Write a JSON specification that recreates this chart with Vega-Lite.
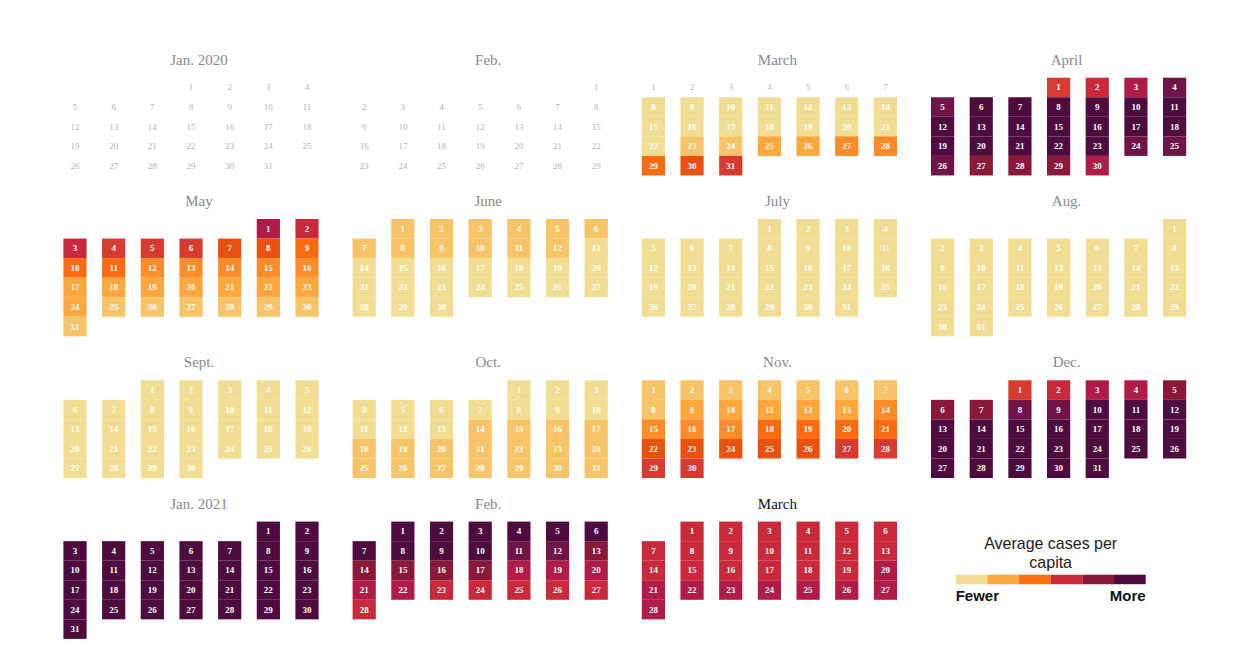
{
  "$schema": "https://vega.github.io/schema/vega-lite/v6.json",
  "padding": {"left": 63.4, "top": 52.7, "right": 10, "bottom": 5},
  "background": "white",
  "data": {"values": [
    {"date":"2020-01-01","level":0},{"date":"2020-01-02","level":0},{"date":"2020-01-03","level":0},{"date":"2020-01-04","level":0},{"date":"2020-01-05","level":0},{"date":"2020-01-06","level":0},{"date":"2020-01-07","level":0},{"date":"2020-01-08","level":0},{"date":"2020-01-09","level":0},{"date":"2020-01-10","level":0},{"date":"2020-01-11","level":0},{"date":"2020-01-12","level":0},{"date":"2020-01-13","level":0},{"date":"2020-01-14","level":0},{"date":"2020-01-15","level":0},{"date":"2020-01-16","level":0},{"date":"2020-01-17","level":0},{"date":"2020-01-18","level":0},{"date":"2020-01-19","level":0},{"date":"2020-01-20","level":0},{"date":"2020-01-21","level":0},{"date":"2020-01-22","level":0},{"date":"2020-01-23","level":0},{"date":"2020-01-24","level":0},{"date":"2020-01-25","level":0},{"date":"2020-01-26","level":0},{"date":"2020-01-27","level":0},{"date":"2020-01-28","level":0},{"date":"2020-01-29","level":0},{"date":"2020-01-30","level":0},{"date":"2020-01-31","level":0},
    {"date":"2020-02-01","level":0},{"date":"2020-02-02","level":0},{"date":"2020-02-03","level":0},{"date":"2020-02-04","level":0},{"date":"2020-02-05","level":0},{"date":"2020-02-06","level":0},{"date":"2020-02-07","level":0},{"date":"2020-02-08","level":0},{"date":"2020-02-09","level":0},{"date":"2020-02-10","level":0},{"date":"2020-02-11","level":0},{"date":"2020-02-12","level":0},{"date":"2020-02-13","level":0},{"date":"2020-02-14","level":0},{"date":"2020-02-15","level":0},{"date":"2020-02-16","level":0},{"date":"2020-02-17","level":0},{"date":"2020-02-18","level":0},{"date":"2020-02-19","level":0},{"date":"2020-02-20","level":0},{"date":"2020-02-21","level":0},{"date":"2020-02-22","level":0},{"date":"2020-02-23","level":0},{"date":"2020-02-24","level":0},{"date":"2020-02-25","level":0},{"date":"2020-02-26","level":0},{"date":"2020-02-27","level":0},{"date":"2020-02-28","level":0},{"date":"2020-02-29","level":0},
    {"date":"2020-03-01","level":0},{"date":"2020-03-02","level":0},{"date":"2020-03-03","level":0},{"date":"2020-03-04","level":0},{"date":"2020-03-05","level":0},{"date":"2020-03-06","level":0},{"date":"2020-03-07","level":0},{"date":"2020-03-08","level":1},{"date":"2020-03-09","level":1},{"date":"2020-03-10","level":1},{"date":"2020-03-11","level":1},{"date":"2020-03-12","level":1},{"date":"2020-03-13","level":1},{"date":"2020-03-14","level":1},{"date":"2020-03-15","level":1},{"date":"2020-03-16","level":1},{"date":"2020-03-17","level":1},{"date":"2020-03-18","level":1},{"date":"2020-03-19","level":1},{"date":"2020-03-20","level":1},{"date":"2020-03-21","level":1},{"date":"2020-03-22","level":1},{"date":"2020-03-23","level":2},{"date":"2020-03-24","level":2},{"date":"2020-03-25","level":3},{"date":"2020-03-26","level":3},{"date":"2020-03-27","level":4},{"date":"2020-03-28","level":4},{"date":"2020-03-29","level":5},{"date":"2020-03-30","level":6},{"date":"2020-03-31","level":7},
    {"date":"2020-04-01","level":7},{"date":"2020-04-02","level":8},{"date":"2020-04-03","level":9},{"date":"2020-04-04","level":11},{"date":"2020-04-05","level":11},{"date":"2020-04-06","level":12},{"date":"2020-04-07","level":12},{"date":"2020-04-08","level":12},{"date":"2020-04-09","level":12},{"date":"2020-04-10","level":12},{"date":"2020-04-11","level":12},{"date":"2020-04-12","level":12},{"date":"2020-04-13","level":12},{"date":"2020-04-14","level":12},{"date":"2020-04-15","level":12},{"date":"2020-04-16","level":12},{"date":"2020-04-17","level":12},{"date":"2020-04-18","level":12},{"date":"2020-04-19","level":12},{"date":"2020-04-20","level":12},{"date":"2020-04-21","level":12},{"date":"2020-04-22","level":12},{"date":"2020-04-23","level":12},{"date":"2020-04-24","level":11},{"date":"2020-04-25","level":11},{"date":"2020-04-26","level":11},{"date":"2020-04-27","level":10},{"date":"2020-04-28","level":10},{"date":"2020-04-29","level":10},{"date":"2020-04-30","level":9},
    {"date":"2020-05-01","level":9},{"date":"2020-05-02","level":8},{"date":"2020-05-03","level":8},{"date":"2020-05-04","level":7},{"date":"2020-05-05","level":7},{"date":"2020-05-06","level":7},{"date":"2020-05-07","level":6},{"date":"2020-05-08","level":6},{"date":"2020-05-09","level":5},{"date":"2020-05-10","level":5},{"date":"2020-05-11","level":5},{"date":"2020-05-12","level":4},{"date":"2020-05-13","level":4},{"date":"2020-05-14","level":4},{"date":"2020-05-15","level":4},{"date":"2020-05-16","level":4},{"date":"2020-05-17","level":3},{"date":"2020-05-18","level":3},{"date":"2020-05-19","level":3},{"date":"2020-05-20","level":3},{"date":"2020-05-21","level":3},{"date":"2020-05-22","level":3},{"date":"2020-05-23","level":3},{"date":"2020-05-24","level":3},{"date":"2020-05-25","level":2},{"date":"2020-05-26","level":2},{"date":"2020-05-27","level":2},{"date":"2020-05-28","level":2},{"date":"2020-05-29","level":2},{"date":"2020-05-30","level":2},{"date":"2020-05-31","level":2},
    {"date":"2020-06-01","level":2},{"date":"2020-06-02","level":2},{"date":"2020-06-03","level":2},{"date":"2020-06-04","level":2},{"date":"2020-06-05","level":2},{"date":"2020-06-06","level":2},{"date":"2020-06-07","level":2},{"date":"2020-06-08","level":2},{"date":"2020-06-09","level":2},{"date":"2020-06-10","level":2},{"date":"2020-06-11","level":2},{"date":"2020-06-12","level":2},{"date":"2020-06-13","level":1},{"date":"2020-06-14","level":1},{"date":"2020-06-15","level":1},{"date":"2020-06-16","level":1},{"date":"2020-06-17","level":1},{"date":"2020-06-18","level":1},{"date":"2020-06-19","level":1},{"date":"2020-06-20","level":1},{"date":"2020-06-21","level":1},{"date":"2020-06-22","level":1},{"date":"2020-06-23","level":1},{"date":"2020-06-24","level":1},{"date":"2020-06-25","level":1},{"date":"2020-06-26","level":1},{"date":"2020-06-27","level":1},{"date":"2020-06-28","level":1},{"date":"2020-06-29","level":1},{"date":"2020-06-30","level":1},
    {"date":"2020-07-01","level":1},{"date":"2020-07-02","level":1},{"date":"2020-07-03","level":1},{"date":"2020-07-04","level":1},{"date":"2020-07-05","level":1},{"date":"2020-07-06","level":1},{"date":"2020-07-07","level":1},{"date":"2020-07-08","level":1},{"date":"2020-07-09","level":1},{"date":"2020-07-10","level":1},{"date":"2020-07-11","level":1},{"date":"2020-07-12","level":1},{"date":"2020-07-13","level":1},{"date":"2020-07-14","level":1},{"date":"2020-07-15","level":1},{"date":"2020-07-16","level":1},{"date":"2020-07-17","level":1},{"date":"2020-07-18","level":1},{"date":"2020-07-19","level":1},{"date":"2020-07-20","level":1},{"date":"2020-07-21","level":1},{"date":"2020-07-22","level":1},{"date":"2020-07-23","level":1},{"date":"2020-07-24","level":1},{"date":"2020-07-25","level":1},{"date":"2020-07-26","level":1},{"date":"2020-07-27","level":1},{"date":"2020-07-28","level":1},{"date":"2020-07-29","level":1},{"date":"2020-07-30","level":1},{"date":"2020-07-31","level":1},
    {"date":"2020-08-01","level":1},{"date":"2020-08-02","level":1},{"date":"2020-08-03","level":1},{"date":"2020-08-04","level":1},{"date":"2020-08-05","level":1},{"date":"2020-08-06","level":1},{"date":"2020-08-07","level":1},{"date":"2020-08-08","level":1},{"date":"2020-08-09","level":1},{"date":"2020-08-10","level":1},{"date":"2020-08-11","level":1},{"date":"2020-08-12","level":1},{"date":"2020-08-13","level":1},{"date":"2020-08-14","level":1},{"date":"2020-08-15","level":1},{"date":"2020-08-16","level":1},{"date":"2020-08-17","level":1},{"date":"2020-08-18","level":1},{"date":"2020-08-19","level":1},{"date":"2020-08-20","level":1},{"date":"2020-08-21","level":1},{"date":"2020-08-22","level":1},{"date":"2020-08-23","level":1},{"date":"2020-08-24","level":1},{"date":"2020-08-25","level":1},{"date":"2020-08-26","level":1},{"date":"2020-08-27","level":1},{"date":"2020-08-28","level":1},{"date":"2020-08-29","level":1},{"date":"2020-08-30","level":1},{"date":"2020-08-31","level":1},
    {"date":"2020-09-01","level":1},{"date":"2020-09-02","level":1},{"date":"2020-09-03","level":1},{"date":"2020-09-04","level":1},{"date":"2020-09-05","level":1},{"date":"2020-09-06","level":1},{"date":"2020-09-07","level":1},{"date":"2020-09-08","level":1},{"date":"2020-09-09","level":1},{"date":"2020-09-10","level":1},{"date":"2020-09-11","level":1},{"date":"2020-09-12","level":1},{"date":"2020-09-13","level":1},{"date":"2020-09-14","level":1},{"date":"2020-09-15","level":1},{"date":"2020-09-16","level":1},{"date":"2020-09-17","level":1},{"date":"2020-09-18","level":1},{"date":"2020-09-19","level":1},{"date":"2020-09-20","level":1},{"date":"2020-09-21","level":1},{"date":"2020-09-22","level":1},{"date":"2020-09-23","level":1},{"date":"2020-09-24","level":1},{"date":"2020-09-25","level":1},{"date":"2020-09-26","level":1},{"date":"2020-09-27","level":1},{"date":"2020-09-28","level":1},{"date":"2020-09-29","level":1},{"date":"2020-09-30","level":1},
    {"date":"2020-10-01","level":1},{"date":"2020-10-02","level":1},{"date":"2020-10-03","level":1},{"date":"2020-10-04","level":1},{"date":"2020-10-05","level":1},{"date":"2020-10-06","level":1},{"date":"2020-10-07","level":1},{"date":"2020-10-08","level":1},{"date":"2020-10-09","level":1},{"date":"2020-10-10","level":1},{"date":"2020-10-11","level":1},{"date":"2020-10-12","level":1},{"date":"2020-10-13","level":1},{"date":"2020-10-14","level":2},{"date":"2020-10-15","level":2},{"date":"2020-10-16","level":2},{"date":"2020-10-17","level":2},{"date":"2020-10-18","level":2},{"date":"2020-10-19","level":2},{"date":"2020-10-20","level":2},{"date":"2020-10-21","level":2},{"date":"2020-10-22","level":2},{"date":"2020-10-23","level":2},{"date":"2020-10-24","level":2},{"date":"2020-10-25","level":2},{"date":"2020-10-26","level":2},{"date":"2020-10-27","level":2},{"date":"2020-10-28","level":2},{"date":"2020-10-29","level":2},{"date":"2020-10-30","level":2},{"date":"2020-10-31","level":2},
    {"date":"2020-11-01","level":2},{"date":"2020-11-02","level":2},{"date":"2020-11-03","level":2},{"date":"2020-11-04","level":2},{"date":"2020-11-05","level":2},{"date":"2020-11-06","level":2},{"date":"2020-11-07","level":2},{"date":"2020-11-08","level":2},{"date":"2020-11-09","level":3},{"date":"2020-11-10","level":3},{"date":"2020-11-11","level":3},{"date":"2020-11-12","level":3},{"date":"2020-11-13","level":3},{"date":"2020-11-14","level":4},{"date":"2020-11-15","level":4},{"date":"2020-11-16","level":4},{"date":"2020-11-17","level":4},{"date":"2020-11-18","level":5},{"date":"2020-11-19","level":5},{"date":"2020-11-20","level":5},{"date":"2020-11-21","level":5},{"date":"2020-11-22","level":6},{"date":"2020-11-23","level":6},{"date":"2020-11-24","level":6},{"date":"2020-11-25","level":6},{"date":"2020-11-26","level":6},{"date":"2020-11-27","level":7},{"date":"2020-11-28","level":7},{"date":"2020-11-29","level":7},{"date":"2020-11-30","level":7},
    {"date":"2020-12-01","level":7},{"date":"2020-12-02","level":8},{"date":"2020-12-03","level":9},{"date":"2020-12-04","level":9},{"date":"2020-12-05","level":10},{"date":"2020-12-06","level":10},{"date":"2020-12-07","level":10},{"date":"2020-12-08","level":11},{"date":"2020-12-09","level":11},{"date":"2020-12-10","level":12},{"date":"2020-12-11","level":12},{"date":"2020-12-12","level":12},{"date":"2020-12-13","level":12},{"date":"2020-12-14","level":12},{"date":"2020-12-15","level":12},{"date":"2020-12-16","level":12},{"date":"2020-12-17","level":12},{"date":"2020-12-18","level":12},{"date":"2020-12-19","level":12},{"date":"2020-12-20","level":12},{"date":"2020-12-21","level":12},{"date":"2020-12-22","level":12},{"date":"2020-12-23","level":12},{"date":"2020-12-24","level":12},{"date":"2020-12-25","level":12},{"date":"2020-12-26","level":12},{"date":"2020-12-27","level":12},{"date":"2020-12-28","level":12},{"date":"2020-12-29","level":12},{"date":"2020-12-30","level":12},{"date":"2020-12-31","level":12},
    {"date":"2021-01-01","level":12},{"date":"2021-01-02","level":12},{"date":"2021-01-03","level":12},{"date":"2021-01-04","level":12},{"date":"2021-01-05","level":12},{"date":"2021-01-06","level":12},{"date":"2021-01-07","level":12},{"date":"2021-01-08","level":12},{"date":"2021-01-09","level":12},{"date":"2021-01-10","level":12},{"date":"2021-01-11","level":12},{"date":"2021-01-12","level":12},{"date":"2021-01-13","level":12},{"date":"2021-01-14","level":12},{"date":"2021-01-15","level":12},{"date":"2021-01-16","level":12},{"date":"2021-01-17","level":12},{"date":"2021-01-18","level":12},{"date":"2021-01-19","level":12},{"date":"2021-01-20","level":12},{"date":"2021-01-21","level":12},{"date":"2021-01-22","level":12},{"date":"2021-01-23","level":12},{"date":"2021-01-24","level":12},{"date":"2021-01-25","level":12},{"date":"2021-01-26","level":12},{"date":"2021-01-27","level":12},{"date":"2021-01-28","level":12},{"date":"2021-01-29","level":12},{"date":"2021-01-30","level":12},{"date":"2021-01-31","level":12},
    {"date":"2021-02-01","level":12},{"date":"2021-02-02","level":12},{"date":"2021-02-03","level":12},{"date":"2021-02-04","level":12},{"date":"2021-02-05","level":12},{"date":"2021-02-06","level":12},{"date":"2021-02-07","level":12},{"date":"2021-02-08","level":12},{"date":"2021-02-09","level":12},{"date":"2021-02-10","level":12},{"date":"2021-02-11","level":11},{"date":"2021-02-12","level":11},{"date":"2021-02-13","level":10},{"date":"2021-02-14","level":10},{"date":"2021-02-15","level":10},{"date":"2021-02-16","level":10},{"date":"2021-02-17","level":10},{"date":"2021-02-18","level":9},{"date":"2021-02-19","level":9},{"date":"2021-02-20","level":9},{"date":"2021-02-21","level":9},{"date":"2021-02-22","level":9},{"date":"2021-02-23","level":8},{"date":"2021-02-24","level":8},{"date":"2021-02-25","level":8},{"date":"2021-02-26","level":8},{"date":"2021-02-27","level":8},{"date":"2021-02-28","level":8},
    {"date":"2021-03-01","level":8},{"date":"2021-03-02","level":8},{"date":"2021-03-03","level":8},{"date":"2021-03-04","level":8},{"date":"2021-03-05","level":8},{"date":"2021-03-06","level":8},{"date":"2021-03-07","level":8},{"date":"2021-03-08","level":8},{"date":"2021-03-09","level":8},{"date":"2021-03-10","level":8},{"date":"2021-03-11","level":8},{"date":"2021-03-12","level":8},{"date":"2021-03-13","level":8},{"date":"2021-03-14","level":8},{"date":"2021-03-15","level":8},{"date":"2021-03-16","level":8},{"date":"2021-03-17","level":8},{"date":"2021-03-18","level":8},{"date":"2021-03-19","level":8},{"date":"2021-03-20","level":9},{"date":"2021-03-21","level":9},{"date":"2021-03-22","level":9},{"date":"2021-03-23","level":9},{"date":"2021-03-24","level":9},{"date":"2021-03-25","level":9},{"date":"2021-03-26","level":9},{"date":"2021-03-27","level":9},{"date":"2021-03-28","level":9}
  ]},
  "facet": {
    "field": "date", "timeUnit": "utcyearmonth", "type": "ordinal",
    "header": {
      "title": null,
      "labelExpr": "['Jan.','Feb.','March','April','May','June','July','Aug.','Sept.','Oct.','Nov.','Dec.'][utcmonth(datum.value)] + (utcmonth(datum.value) == 0 ? ' ' + utcyear(datum.value) : '')",
      "labelFont": "Liberation Serif",
      "labelFontSize": 15,
      "labelColor": {"expr": "utcyear(parent['utcyearmonth_date']) == 2021 && utcmonth(parent['utcyearmonth_date']) == 2 ? '#111111' : '#8a8a8a'"},
      "labelPadding": 10
    }
  },
  "columns": 4,
  "spacing": {"row": 18.3, "column": 17.2},
  "resolve": {"scale": {"y": "independent"}},
  "spec": {
    "width": 271.2,
    "height": {"step": 19.55},
    "encoding": {
      "x": {"field": "date", "timeUnit": "utcday", "type": "ordinal", "axis": null, "scale": {"paddingInner": 0.4, "paddingOuter": 0.2066, "align": 0}},
      "y": {"field": "date", "timeUnit": "utcweek", "type": "ordinal", "axis": null, "scale": {"paddingInner": 0, "paddingOuter": 0}}
    },
    "layer": [
      {
        "transform": [{"filter": "datum.level > 0"}],
        "mark": {"type": "rect", "strokeWidth": 0},
        "encoding": {
          "fill": {"field": "level", "type": "ordinal", "legend": null,
            "scale": {"domain": [1,2,3,4,5,6,7,8,9,10,11,12],
              "range": ["#f1de93","#f8c468","#fda73c","#fc8c2a","#fb6c12","#e8520e","#d63b30","#c9293a","#b01b47","#8a1839","#701448","#4e0b3d"]}},
          "stroke": {"field": "level", "type": "quantitative",
            "scale": {"type": "quantize", "domain": [0, 12], "range": ["#f2dd92","#fda83c","#fb6e14","#c92a38","#8a1839","#4e0b3d"]},
            "legend": {
              "type": "gradient",
              "values": [0, 2, 4, 6, 8, 10, 12],
              "title": ["Average cases per", "capita"],
              "orient": "none", "legendX": 892.3, "legendY": 458,
              "direction": "horizontal",
              "gradientLength": 190, "gradientThickness": 9.5, "gradientStrokeWidth": 0,
              "labelExpr": "datum.value <= 0 ? 'Fewer' : (datum.value >= 12 ? 'More' : '')",
              "labelOverlap": false,
              "labelFont": "Liberation Sans", "labelFontSize": 15, "labelFontWeight": "bold", "labelColor": "#111111", "labelOffset": 5,
              "titleFont": "Liberation Sans", "titleFontSize": 16, "titleFontWeight": "normal", "titleColor": "#222222",
              "titleAnchor": "middle", "titleAlign": "center", "titleLineHeight": 19, "titlePadding": 4, "titleLimit": 300
            }
          }
        }
      },
      {
        "transform": [{"filter": "datum.level > 0"}],
        "mark": {"type": "text", "font": "Liberation Serif", "fontSize": 9, "fontWeight": "bold", "fill": "#ffffff", "baseline": "middle"},
        "encoding": {"text": {"field": "date", "timeUnit": "utcdate", "type": "ordinal", "format": "%-d"}}
      },
      {
        "transform": [{"filter": "datum.level == 0"}],
        "mark": {"type": "text", "font": "Liberation Serif", "fontSize": 9, "fill": "#b5b5b5", "baseline": "middle"},
        "encoding": {"text": {"field": "date", "timeUnit": "utcdate", "type": "ordinal", "format": "%-d"}}
      }
    ]
  },
  "config": {"view": {"stroke": null}}
}
